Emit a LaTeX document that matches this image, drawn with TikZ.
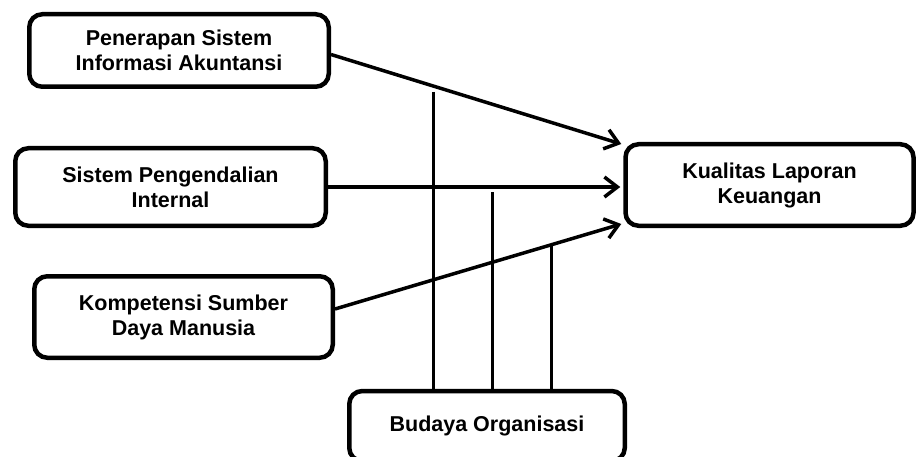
\documentclass[tikz,border=0pt]{standalone}
\usepackage{fontspec}
\setmainfont{Liberation Sans}
\usetikzlibrary{arrows.meta,calc}

\begin{document}
\begin{tikzpicture}[x=1pt, y=-1pt,
    box/.style={draw, line width=4.5pt, rounded corners=13pt, align=center, inner sep=0pt,
      font=\fontsize{21.5}{25}\selectfont\bfseries},
    link/.style={line width=3.5pt, -{Straight Barb[length=13pt,width=20pt]}},
    tie/.style={line width=3pt},
  ]

    %fix the page
    \useasboundingbox (0,0) rectangle (917,457);
    \clip (0,0) rectangle (917,457);

    %draw the boxes
    \node[box, minimum width=299.5pt, minimum height=72.5pt] (sia) at (179,50.5)
        {Penerapan Sistem\\Informasi Akuntansi};
    \node[box, minimum width=310.5pt, minimum height=77.5pt] (spi) at (170.5,187)
        {Sistem Pengendalian\\Internal};
    \node[box, minimum width=298.5pt, minimum height=81.5pt] (ksdm) at (183.5,317)
        {Kompetensi Sumber\\Daya Manusia};
    \node[box, minimum width=288pt, minimum height=81.5pt] (klk) at (769.5,185)
        {Kualitas Laporan\\Keuangan};
    \node[box, minimum width=275.5pt, minimum height=70pt] (bo) at (487,426)
        {Budaya Organisasi};

    %draw the arrows to the output
    \draw[link] ($(sia.east)+(0,4)$) -- ($(klk.north west)+(-2,2)$);
    \draw[link, shorten >=3pt] (spi.east) -- (spi.east -| klk.west);
    \draw[link] ($(ksdm.east)+(0,-8)$) -- ($(klk.south west)+(-2,-4)$);

    %moderating lines
    \coordinate (m1) at (433,92);
    \coordinate (m2) at (492,192);
    \coordinate (m3) at (551,246);
    \draw[tie] (m1) -- (m1 |- bo.north);
    \draw[tie] (m2) -- (m2 |- bo.north);
    \draw[tie] (m3) -- (m3 |- bo.north);

\end{tikzpicture}
\end{document}
